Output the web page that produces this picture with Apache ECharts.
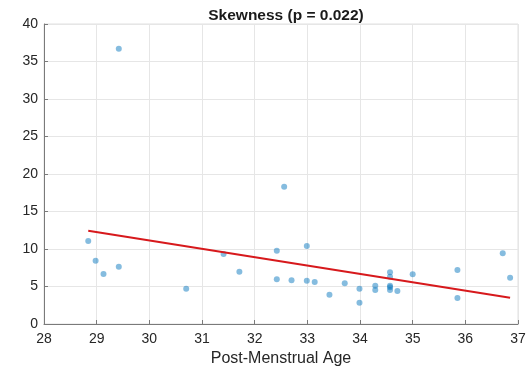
<!DOCTYPE html>
<html>
<head>
<meta charset="utf-8">
<script src="https://cdn.jsdelivr.net/npm/echarts@6/dist/echarts.min.js"></script>
<style>
  html, body { margin: 0; padding: 0; background: #fff; }
  #chart { width: 528px; height: 371px; }
</style>
</head>
<body>
<div id="chart"></div>
<script>
// Post-menstrual age (weeks) for each subject
const ageWeeks = [
  28.84, 28.98, 29.13, 29.42, 29.42, 30.70, 31.41, 31.71,
  32.42, 32.42, 32.56, 32.70, 32.99, 32.99, 33.14, 33.42,
  33.71, 33.99, 33.99, 34.29, 34.29, 34.57, 34.57, 34.57,
  34.57, 34.57, 34.71, 35.00, 35.85, 35.85, 36.71, 36.85
];
// Skewness measured for each subject
const skewness = [
  11.07, 8.44, 6.67, 7.64, 36.7, 4.71, 9.33, 6.98,
  9.78, 5.96, 18.3, 5.82, 10.4, 5.78, 5.60, 3.91,
  5.42, 4.71, 2.84, 5.11, 4.53, 6.89, 6.31, 5.11,
  4.89, 4.53, 4.40, 6.62, 7.20, 3.47, 9.42, 6.18
];
// Linear fit endpoints
const fitAge = [28.84, 36.85];
const fitSkew = [12.44, 3.51];

const xTicks = [28, 29, 30, 31, 32, 33, 34, 35, 36, 37];
const yTicks = [0, 5, 10, 15, 20, 25, 30, 35, 40];

const font = 'Helvetica, "Liberation Sans", Arial, sans-serif';

const chart = echarts.init(document.getElementById('chart'), null, { renderer: 'canvas' });

const axisCommon = {
  axisLine: { show: true, onZero: false, lineStyle: { color: '#7a7a7a', width: 1 } },
  axisTick: { show: true, inside: true, length: 4, lineStyle: { color: '#7a7a7a' } },
  splitLine: { show: true, lineStyle: { color: '#e6e6e6', width: 1 } },
  axisLabel: { color: '#262626', fontSize: 14, fontFamily: font }
};

chart.setOption({
  animation: false,
  backgroundColor: '#ffffff',
  title: {
    text: 'Skewness (p = 0.022)',
    left: 281, top: 3, textAlign: 'center',
    textStyle: { fontSize: 15.5, fontWeight: 'bold', color: '#1a1a1a', fontFamily: font }
  },
  grid: {
    left: 44, right: 10, top: 24, bottom: 47,
    outerBoundsMode: 'none', containLabel: false,
    show: true, borderColor: '#e0e0e0', borderWidth: 1
  },
  xAxis: Object.assign({}, axisCommon, {
    type: 'value', min: xTicks[0], max: xTicks[xTicks.length - 1], interval: 1,
    name: 'Post-Menstrual Age', nameLocation: 'middle', nameGap: 22,
    nameTextStyle: { fontSize: 16, color: '#262626', fontFamily: font },
    axisLabel: Object.assign({}, axisCommon.axisLabel, { margin: 8 })
  }),
  yAxis: Object.assign({}, axisCommon, {
    type: 'value', min: yTicks[0], max: yTicks[yTicks.length - 1], interval: 5,
    axisLabel: Object.assign({}, axisCommon.axisLabel, { margin: 6 })
  }),
  series: [
    {
      type: 'scatter',
      data: ageWeeks.map((a, i) => [a, skewness[i]]),
      symbolSize: 6,
      itemStyle: { color: 'rgba(0,114,189,0.6)' },
      z: 3
    },
    {
      type: 'line',
      data: fitAge.map((a, i) => [a, fitSkew[i]]),
      symbol: 'none',
      lineStyle: { color: '#d7191c', width: 2 },
      z: 4
    }
  ]
});
</script>
</body>
</html>
